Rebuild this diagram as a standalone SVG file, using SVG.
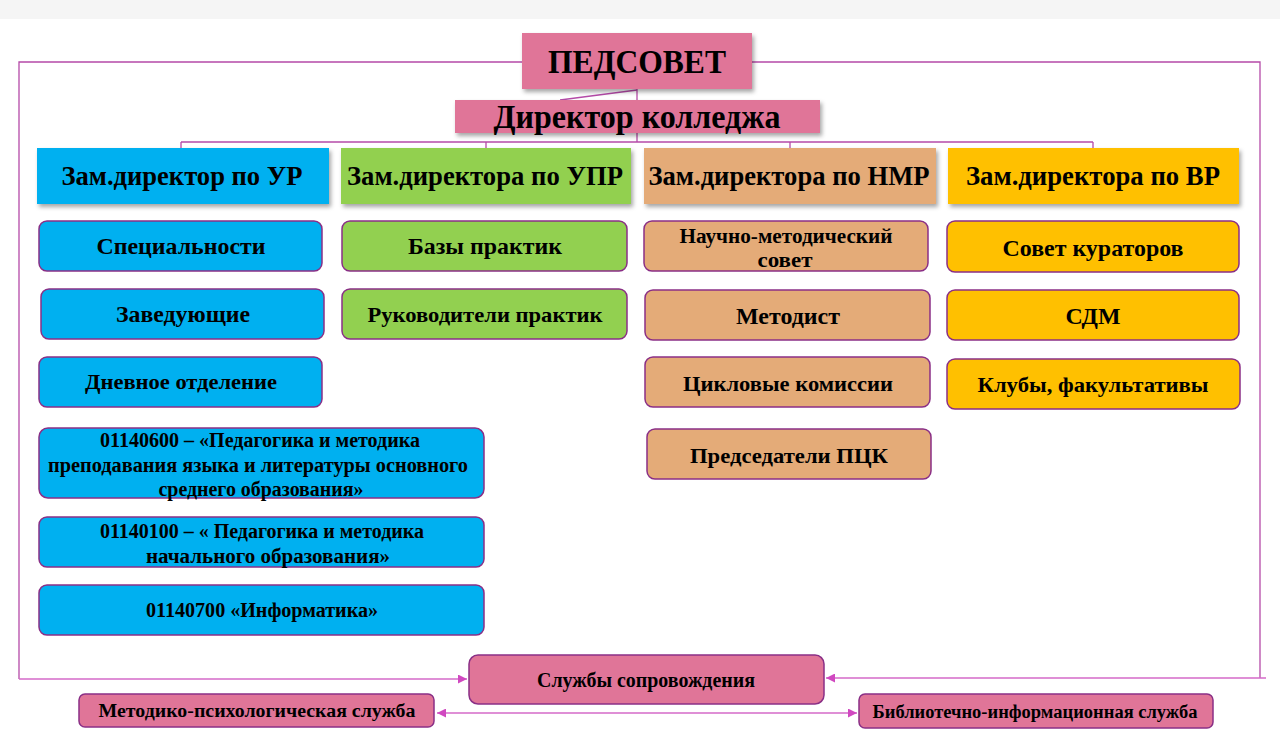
<svg xmlns="http://www.w3.org/2000/svg" width="1280" height="739" viewBox="0 0 1280 739">
<defs>
<filter id="sh" x="-10%" y="-20%" width="130%" height="160%">
<feDropShadow dx="2" dy="3" stdDeviation="2" flood-color="#000" flood-opacity="0.35"/>
</filter>
<marker id="ah" viewBox="0 0 10 10" refX="10" refY="5" markerWidth="9" markerHeight="9" markerUnits="userSpaceOnUse" orient="auto-start-reverse">
<path d="M0,0 L10,5 L0,10 z" fill="#d048c0"/>
</marker>
<style>
text{font-family:"Liberation Serif","Times New Roman",serif;font-weight:bold;fill:#000;text-anchor:middle}
.ln{stroke:#b54aa8;stroke-width:1.3;fill:none}
.arr{stroke:#d56ac8;stroke-width:1.3;fill:none}
.hd{filter:url(#sh)}
.ch{stroke:#8a2f86;stroke-width:1.5}
.pink{fill:#e07598}
.blue{fill:#00b0f0}
.green{fill:#92d050}
.tan{fill:#e4ab78}
.yel{fill:#ffc000}
.h1{font-size:34px}
.h2{font-size:27px}
.t20{font-size:23px}
.t18{font-size:21px}
.t17{font-size:20px}
.t16{font-size:18px}
</style>
</defs>
<rect x="0" y="0" width="1280" height="739" fill="#fff"/>
<rect x="0" y="0" width="1280" height="19" fill="#f5f5f5"/>

<g id="connectors">
<polyline class="ln" points="522,62 19,62 19,679"/>
<polyline class="ln" points="752,62 1260,62 1260,678"/>
<line class="arr" x1="19" y1="679" x2="467" y2="679" marker-end="url(#ah)"/>
<line class="arr" x1="1266" y1="678" x2="826" y2="678" marker-end="url(#ah)"/>
<line class="arr" x1="437" y1="713" x2="857" y2="713" marker-start="url(#ah)" marker-end="url(#ah)"/>
<line class="ln" x1="637" y1="89" x2="637" y2="142"/>
<line class="ln" x1="560" y1="100" x2="637" y2="90"/>
<line class="ln" x1="181" y1="142" x2="1093" y2="142"/>
<line class="ln" x1="181" y1="142" x2="181" y2="148"/>
<line class="ln" x1="486" y1="142" x2="486" y2="148"/>
<line class="ln" x1="790" y1="142" x2="790" y2="148"/>
<line class="ln" x1="1093" y1="142" x2="1093" y2="148"/>
</g>

<g id="pedsovet">
<rect class="pink hd" x="522" y="33" width="230" height="56"/>
<text class="h1" x="637" y="73" textLength="178" lengthAdjust="spacingAndGlyphs">ПЕДСОВЕТ</text>
</g>
<g id="director">
<rect class="pink hd" x="455" y="100" width="365" height="33"/>
<text class="h1" x="637" y="128" textLength="287" lengthAdjust="spacingAndGlyphs">Директор колледжа</text>
</g>

<g id="zam-ur">
<rect class="blue hd" x="37" y="148" width="292" height="56"/>
<text class="h2" x="182" y="185" textLength="241" lengthAdjust="spacingAndGlyphs">Зам.директор по УР</text>
</g>
<g id="zam-upr">
<rect class="green hd" x="341" y="148" width="290" height="56"/>
<text class="h2" x="485" y="185" textLength="276" lengthAdjust="spacingAndGlyphs">Зам.директора по УПР</text>
</g>
<g id="zam-nmr">
<rect class="tan hd" x="644" y="148" width="292" height="56"/>
<text class="h2" x="789" y="185" textLength="281" lengthAdjust="spacingAndGlyphs">Зам.директора по НМР</text>
</g>
<g id="zam-vr">
<rect class="yel hd" x="948" y="148" width="291" height="56"/>
<text class="h2" x="1093" y="185" textLength="254" lengthAdjust="spacingAndGlyphs">Зам.директора по ВР</text>
</g>

<g id="specialnosti">
<rect class="blue ch" x="39" y="221" width="283" height="50" rx="8"/>
<text class="t20" x="181" y="254" textLength="169" lengthAdjust="spacingAndGlyphs">Специальности</text>
</g>
<g id="zaveduyushchie">
<rect class="blue ch" x="41" y="289" width="283" height="50" rx="8"/>
<text class="t20" x="183" y="322" textLength="134" lengthAdjust="spacingAndGlyphs">Заведующие</text>
</g>
<g id="dnevnoe">
<rect class="blue ch" x="39" y="357" width="283" height="50" rx="8"/>
<text class="t18" x="181" y="389" textLength="192" lengthAdjust="spacingAndGlyphs">Дневное отделение</text>
</g>
<g id="spec-0600">
<rect class="blue ch" x="39" y="428" width="445" height="70" rx="9"/>
<text class="t17" x="260" y="447" textLength="320" lengthAdjust="spacingAndGlyphs">01140600 – «Педагогика и методика</text>
<text class="t17" x="258" y="472" textLength="420" lengthAdjust="spacingAndGlyphs">преподавания языка и литературы основного</text>
<text class="t17" x="261" y="496" textLength="205" lengthAdjust="spacingAndGlyphs">среднего образования»</text>
</g>
<g id="spec-0100">
<rect class="blue ch" x="39" y="517" width="445" height="50" rx="8"/>
<text class="t17" x="262" y="538" textLength="324" lengthAdjust="spacingAndGlyphs">01140100 – « Педагогика и методика</text>
<text class="t17" x="268" y="563" textLength="244" lengthAdjust="spacingAndGlyphs">начального образования»</text>
</g>
<g id="spec-0700">
<rect class="blue ch" x="39" y="585" width="445" height="50" rx="8"/>
<text class="t17" x="262" y="617" textLength="232" lengthAdjust="spacingAndGlyphs">01140700 «Информатика»</text>
</g>

<g id="bazy">
<rect class="green ch" x="342" y="221" width="285" height="50" rx="8"/>
<text class="t20" x="485" y="254" textLength="154" lengthAdjust="spacingAndGlyphs">Базы практик</text>
</g>
<g id="rukovoditeli">
<rect class="green ch" x="342" y="289" width="285" height="50" rx="8"/>
<text class="t18" x="485" y="322" textLength="235" lengthAdjust="spacingAndGlyphs">Руководители практик</text>
</g>

<g id="nms">
<rect class="tan ch" x="644" y="221" width="284" height="50" rx="8"/>
<text class="t17" x="786" y="243" textLength="213" lengthAdjust="spacingAndGlyphs">Научно-методический</text>
<text class="t17" x="785" y="267" textLength="55" lengthAdjust="spacingAndGlyphs">совет</text>
</g>
<g id="metodist">
<rect class="tan ch" x="645" y="290" width="285" height="50" rx="8"/>
<text class="t20" x="788" y="324" textLength="104" lengthAdjust="spacingAndGlyphs">Методист</text>
</g>
<g id="cikl">
<rect class="tan ch" x="645" y="357" width="285" height="50" rx="8"/>
<text class="t18" x="788" y="391" textLength="210" lengthAdjust="spacingAndGlyphs">Цикловые комиссии</text>
</g>
<g id="pck">
<rect class="tan ch" x="647" y="429" width="284" height="50" rx="8"/>
<text class="t18" x="789" y="463" textLength="198" lengthAdjust="spacingAndGlyphs">Председатели ПЦК</text>
</g>

<g id="kuratory">
<rect class="yel ch" x="947" y="221" width="292" height="51" rx="8"/>
<text class="t20" x="1093" y="256" textLength="181" lengthAdjust="spacingAndGlyphs">Совет кураторов</text>
</g>
<g id="sdm">
<rect class="yel ch" x="947" y="290" width="292" height="50" rx="8"/>
<text class="t20" x="1093" y="324" textLength="55" lengthAdjust="spacingAndGlyphs">СДМ</text>
</g>
<g id="kluby">
<rect class="yel ch" x="947" y="359" width="293" height="50" rx="8"/>
<text class="t18" x="1093" y="392" textLength="231" lengthAdjust="spacingAndGlyphs">Клубы, факультативы</text>
</g>

<g id="sluzhby">
<rect class="pink ch" x="469" y="655" width="355" height="49" rx="9"/>
<text class="t17" x="646" y="687" textLength="218" lengthAdjust="spacingAndGlyphs">Службы сопровождения</text>
</g>
<g id="psy">
<rect class="pink ch" x="79" y="694" width="355" height="33" rx="6"/>
<text class="t16" x="257" y="717" textLength="317" lengthAdjust="spacingAndGlyphs">Методико-психологическая служба</text>
</g>
<g id="bib">
<rect class="pink ch" x="859" y="694" width="354" height="34" rx="6"/>
<text class="t16" x="1035" y="718" textLength="325" lengthAdjust="spacingAndGlyphs">Библиотечно-информационная служба</text>
</g>
</svg>
